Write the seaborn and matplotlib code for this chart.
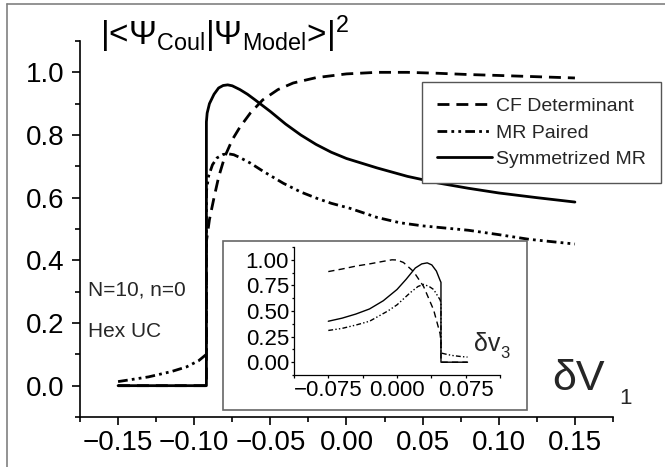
import matplotlib
matplotlib.use("Agg")
import matplotlib.pyplot as plt
from matplotlib.lines import Line2D
from matplotlib.patches import Rectangle
import numpy as np
import pandas as pd
import seaborn as sns

# ---------------- data ----------------
sym_x = [-0.15, -0.092, -0.092, -0.0915, -0.090, -0.087, -0.084, -0.081, -0.078, -0.075,
         -0.070, -0.065, -0.060, -0.050, -0.040, -0.030, -0.020, -0.010, 0.000, 0.020,
         0.040, 0.060, 0.080, 0.100, 0.125, 0.150]
sym_y = [0.0, 0.0, 0.842, 0.87, 0.90, 0.93, 0.95, 0.958, 0.96, 0.957,
         0.945, 0.93, 0.912, 0.875, 0.835, 0.80, 0.77, 0.745, 0.725, 0.695,
         0.668, 0.647, 0.63, 0.615, 0.60, 0.586]

cf_x = [-0.15, -0.092, -0.092, -0.090, -0.087, -0.084, -0.080, -0.075, -0.070, -0.063,
        -0.055, -0.045, -0.035, -0.020, 0.000, 0.020, 0.040, 0.060, 0.080, 0.100,
        0.125, 0.150]
cf_y = [0.0, 0.0, 0.46, 0.53, 0.60, 0.665, 0.73, 0.785, 0.825, 0.871,
        0.912, 0.945, 0.966, 0.983, 0.995, 1.0, 1.0, 0.997, 0.993, 0.99,
        0.986, 0.982]

mr_x = [-0.15, -0.13, -0.115, -0.105, -0.097, -0.092, -0.092, -0.0905, -0.088, -0.085,
        -0.081, -0.0776, -0.074, -0.070, -0.063, -0.055, -0.0415, -0.030, -0.0195, -0.010,
        0.0023, 0.020, 0.035, 0.050, 0.065, 0.080, 0.100, 0.120, 0.150]
mr_y = [0.013, 0.028, 0.045, 0.060, 0.080, 0.10, 0.62, 0.67, 0.705, 0.727,
        0.738, 0.74, 0.737, 0.728, 0.71, 0.685, 0.646, 0.618, 0.598, 0.582,
        0.566, 0.537, 0.52, 0.51, 0.503, 0.496, 0.482, 0.467, 0.452]

# inset (delta v3)
in_cf_x = [-0.075, -0.060, -0.044, -0.030, -0.015, -0.0055, 0.000, 0.007, 0.018, 0.029,
           0.040, 0.047, 0.048, 0.048, 0.077]
in_cf_y = [0.885, 0.91, 0.94, 0.96, 0.985, 1.0, 0.998, 0.974, 0.886, 0.74,
           0.51, 0.28, 0.20, 0.0, 0.0]

in_sym_x = [-0.075, -0.060, -0.045, -0.030, -0.015, 0.000, 0.010, 0.020, 0.027, 0.033,
            0.038, 0.043, 0.047, 0.048, 0.048, 0.077]
in_sym_y = [0.40, 0.43, 0.47, 0.52, 0.60, 0.71, 0.81, 0.92, 0.96, 0.97,
            0.95, 0.89, 0.80, 0.78, 0.0, 0.0]

in_mr_x = [-0.075, -0.060, -0.044, -0.030, -0.022, -0.010, 0.000, 0.0146, 0.023, 0.029,
           0.035, 0.040, 0.047, 0.048, 0.048, 0.055, 0.061, 0.070, 0.077]
in_mr_y = [0.31, 0.33, 0.365, 0.40, 0.44, 0.50, 0.56, 0.68, 0.74, 0.76,
           0.74, 0.71, 0.61, 0.58, 0.09, 0.075, 0.065, 0.055, 0.05]

labels = ["CF Determinant", "MR Paired", "Symmetrized MR"]
main_xticks = [-0.15, -0.10, -0.05, 0.00, 0.05, 0.10, 0.15]
main_yticks = [0.0, 0.2, 0.4, 0.6, 0.8, 1.0]
inset_xticks = [-0.075, 0.0, 0.075]
inset_yticks = [0.0, 0.25, 0.5, 0.75, 1.0]

# ---------------- style ----------------
sns.set_theme(style="ticks")
plt.rcParams["font.family"] = ["Liberation Sans", "DejaVu Sans"]
plt.rcParams["mathtext.fontset"] = "custom"
plt.rcParams["mathtext.rm"] = "Liberation Sans"
plt.rcParams["mathtext.it"] = "Liberation Sans:italic"
plt.rcParams["mathtext.bf"] = "Liberation Sans:bold"
plt.rcParams["mathtext.sf"] = "Liberation Sans"

W, H = 665, 467
fig = plt.figure(figsize=(W / 100, H / 100), dpi=100)
fig.patch.set_facecolor("white")


def fx(px):
    return px / W


def fy(py):
    return 1 - py / H


# main axes
ax = fig.add_axes([fx(80), fy(417), (613 - 80) / W, (417 - 41) / H])
ax.set_facecolor("white")

LW = 2.0
dash_cf = (0, (4.3, 2.5))
dash_mr = (0, (3.5, 1.5, 1.0, 1.5, 1.0, 1.5))


def draw(axis, x, y, ls, lw, label=None):
    df = pd.DataFrame({"x": x, "y": y})
    sns.lineplot(data=df, x="x", y="y", ax=axis, estimator=None, sort=False,
                 color="black", linewidth=lw, linestyle=ls, label=label, legend=False)


draw(ax, cf_x, cf_y, dash_cf, LW)
draw(ax, mr_x, mr_y, dash_mr, LW)
draw(ax, sym_x, sym_y, "-", LW)

ax.set_xlim(-0.175, 0.175)
ax.set_ylim(-0.1, 1.1)
ax.set_xlabel("")
ax.set_ylabel("")
sns.despine(ax=ax)
for s in ["left", "bottom"]:
    ax.spines[s].set_linewidth(1.2)
    ax.spines[s].set_color("black")
ax.set_xticks(main_xticks)
ax.set_xticklabels([f"{v:.2f}".replace("-", "\u2212") if v != 0 else "0.00" for v in main_xticks])
ax.set_yticks(main_yticks)
ax.set_yticklabels([f"{v:.1f}" for v in main_yticks])
ax.set_xticks(np.arange(-0.175, 0.176, 0.05), minor=True)
ax.set_yticks(np.arange(-0.1, 1.11, 0.2), minor=True)
ax.tick_params(axis="both", which="major", direction="out", length=5.5, width=1.2,
               color="black", labelsize=20, labelcolor="black")
ax.tick_params(axis="y", which="major", pad=6)
ax.tick_params(axis="x", which="major", pad=4)
ax.tick_params(which="minor", direction="out", length=3.5, width=1.2, color="black")
ax.grid(False)

# legend
handles = [Line2D([], [], color="black", lw=LW, linestyle=dash_cf),
           Line2D([], [], color="black", lw=LW, linestyle=dash_mr),
           Line2D([], [], color="black", lw=LW, linestyle="-")]
leg = fig.legend(handles, labels, loc="upper right",
                 bbox_to_anchor=(fx(661), fy(82)), bbox_transform=fig.transFigure,
                 borderaxespad=0, fontsize=14, handlelength=2.8, handletextpad=0.2,
                 labelspacing=0.45, borderpad=0.8, frameon=True, fancybox=False,
                 framealpha=1, edgecolor="#555555")
leg.get_frame().set_linewidth(1.0)

# title & texts
fig.text(fx(100), fy(45), r"|<Ψ$_{\mathrm{Coul}}$|Ψ$_{\mathrm{Model}}$>|$^{\mathrm{2}}$",
         fontsize=24, ha="left", va="baseline", color="black")
fig.text(fx(88), fy(295), "N=10, n=0", fontsize=15, ha="left", va="baseline")
fig.text(fx(88), fy(337), "Hex UC", fontsize=15, ha="left", va="baseline")
fig.text(fx(552), fy(390), "δV", fontsize=31, ha="left", va="baseline")
fig.text(fx(619), fy(404), "1", fontsize=16, ha="left", va="baseline")

# figure frame (top and left edges visible)
fig.add_artist(Line2D([fx(7), 1.01], [fy(3.5), fy(3.5)], transform=fig.transFigure,
                      color="#808080", lw=1.2))
fig.add_artist(Line2D([fx(7), fx(7)], [fy(3.5), -0.01], transform=fig.transFigure,
                      color="#808080", lw=1.2))

# inset frame
fig.add_artist(Rectangle((fx(223), fy(410)), (527 - 223) / W, (410 - 241) / H,
                         transform=fig.transFigure, facecolor="white",
                         edgecolor="#666666", lw=1.2, zorder=1))

# inset axes
l_in = 397 - 0.1125 * 916
r_in = 397 + 0.1125 * 916
axi = fig.add_axes([fx(l_in), fy(375), (r_in - l_in) / W, (375 - 247) / H], zorder=2)
axi.patch.set_alpha(0)
draw(axi, in_cf_x, in_cf_y, (0, (4.5, 3)), 1.0)
draw(axi, in_mr_x, in_mr_y, (0, (3.5, 1.6, 1.0, 1.6, 1.0, 1.6)), 1.0)
draw(axi, in_sym_x, in_sym_y, "-", 1.0)
axi.set_xlim(-0.1125, 0.1125)
axi.set_ylim(-0.125, 1.125)
axi.set_xlabel("")
axi.set_ylabel("")
sns.despine(ax=axi)
for s in ["left", "bottom"]:
    axi.spines[s].set_linewidth(0.9)
    axi.spines[s].set_color("black")
axi.set_xticks(inset_xticks)
axi.set_xticklabels(["\u22120.075", "0.000", "0.075"])
axi.set_yticks(inset_yticks)
axi.set_yticklabels([f"{v:.2f}" for v in inset_yticks])
axi.set_xticks([-0.1125, -0.0375, 0.0375, 0.1125], minor=True)
axi.set_yticks(np.arange(-0.125, 1.126, 0.25), minor=True)
axi.tick_params(which="major", direction="out", length=2.5, width=0.9, color="black",
                labelsize=16, pad=1.0, labelcolor="black")
axi.tick_params(which="minor", direction="out", length=1.8, width=0.9, color="black")
axi.grid(False)
fig.text(fx(474), fy(351), "δv", fontsize=18, ha="left", va="baseline")
fig.text(fx(500), fy(358), "3", fontsize=12, ha="left", va="baseline")

fig.savefig("out.png", dpi=100, facecolor="white")
